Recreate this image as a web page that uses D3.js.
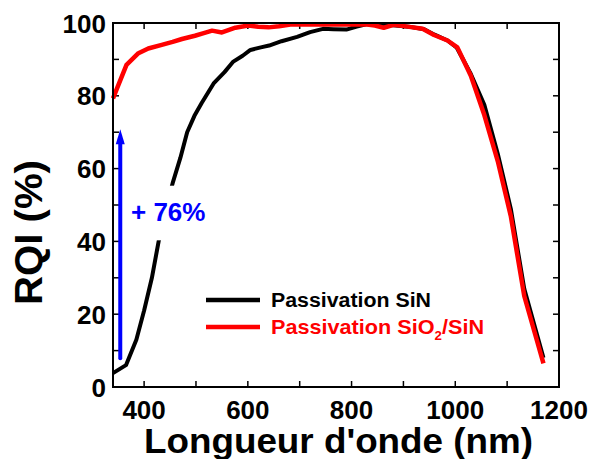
<!DOCTYPE html>
<html>
<head>
<meta charset="utf-8">
<script src="https://cdn.jsdelivr.net/npm/d3@7"></script>
<style>
  body { margin: 0; background: #fff; }
  text { font-family: "Liberation Sans", Arial, sans-serif; font-weight: bold; }
</style>
</head>
<body>
<script>
// wavelength (nm) and RQI (%)
const sinWl  = [340, 365, 385, 400, 415, 428, 440, 455, 470, 483, 497, 511, 534, 555, 572, 590, 605, 625, 641, 665, 695, 720, 745, 765, 790, 810, 830, 850, 880, 910, 940, 960, 985, 1003, 1030, 1056, 1082, 1107, 1133, 1170];
const sinRqi = [3.8, 6, 13, 21, 30, 40, 48, 56, 63, 70, 74.5, 78, 83.4, 86.5, 89.4, 91, 92.6, 93.3, 93.8, 95, 96.2, 97.5, 98.4, 98.3, 98.2, 99, 99.7, 99.5, 99.4, 99, 98.3, 96.8, 95.2, 93.2, 86, 77.5, 64, 49, 27, 8];

const sio2Wl  = [340, 366, 389, 408, 434, 455, 473, 498, 515, 531, 550, 576, 601, 620, 640, 660, 682, 720, 760, 800, 830, 845, 862, 881, 908, 937, 959, 985, 1004, 1030, 1056, 1082, 1107, 1133, 1170];
const sio2Rqi = [79.3, 88.5, 91.7, 93, 94, 94.8, 95.6, 96.5, 97.2, 97.9, 97.4, 98.7, 99.3, 99, 98.8, 99.1, 99.6, 99.6, 99.6, 99.6, 99.6, 99.3, 98.7, 99.5, 99, 98.4, 96.7, 95.2, 93.3, 85.5, 74.7, 62, 47, 25, 6.5];

const xTicks = [400, 600, 800, 1000, 1200];
const xMinor = [500, 700, 900, 1100];
const yTicks = [0, 20, 40, 60, 80, 100];
const yMinor = [10, 30, 50, 70, 90];

// the "+ 76%" arrow, from / to RQI
const gainFrom = 7.9, gainTo = 70.8, gainWl = 354;

const W = 589, H = 459;
const m = {left: 113, right: 30, top: 23, bottom: 72};

const svg = d3.select("body").append("svg")
    .attr("width", W).attr("height", H);

const x = d3.scaleLinear().domain([340, 1200]).range([m.left, W - m.right]);
const y = d3.scaleLinear().domain([0, 100]).range([H - m.bottom, m.top]);

/** ticks: all inward, on four sides */
const tk = 6;
const ticks = svg.append("g").attr("stroke", "#000").attr("stroke-width", 1.5);
for (let v of xTicks.concat(xMinor)) {
    ticks.append("line").attr("x1", x(v)).attr("x2", x(v)).attr("y1", y(0)).attr("y2", y(0) - tk);
    ticks.append("line").attr("x1", x(v)).attr("x2", x(v)).attr("y1", y(100)).attr("y2", y(100) + tk);
}
for (let v of yTicks.concat(yMinor)) {
    ticks.append("line").attr("y1", y(v)).attr("y2", y(v)).attr("x1", x(340)).attr("x2", x(340) + tk);
    ticks.append("line").attr("y1", y(v)).attr("y2", y(v)).attr("x1", x(1200)).attr("x2", x(1200) - tk);
}

svg.append("g").selectAll("text")
    .data(xTicks).enter().append("text")
    .attr("x", d => x(d)).attr("y", y(0) + 32)
    .attr("text-anchor", "middle").attr("font-size", 26)
    .text(d => d);

svg.append("g").selectAll("text")
    .data(yTicks).enter().append("text")
    .attr("x", x(340) - 7).attr("y", d => y(d) + 9.5)
    .attr("text-anchor", "end").attr("font-size", 26)
    .text(d => d);

svg.append("text")
    .attr("x", 144).attr("y", 453)
    .attr("font-size", 35)
    .attr("textLength", 389).attr("lengthAdjust", "spacingAndGlyphs")
    .text("Longueur d'onde (nm)");

svg.append("text")
    .attr("transform", "translate(42, 305) rotate(-90)")
    .attr("font-size", 38)
    .attr("textLength", 145).attr("lengthAdjust", "spacingAndGlyphs")
    .text("RQI (%)");

/** curves */
const line = d3.line().x(d => x(d[0])).y(d => y(d[1]));
const sinPts = sinWl.map((w, i) => [w, sinRqi[i]]);
const sio2Pts = sio2Wl.map((w, i) => [w, sio2Rqi[i]]);

svg.append("path").datum(sinPts)
    .attr("d", line).attr("fill", "none")
    .attr("stroke", "#000").attr("stroke-width", 4).attr("stroke-linejoin", "round");

svg.append("path").datum(sio2Pts)
    .attr("d", line).attr("fill", "none")
    .attr("stroke", "#ff0000").attr("stroke-width", 4.5).attr("stroke-linejoin", "round");

/** frame */
svg.append("rect")
    .attr("x", x(340)).attr("y", y(100))
    .attr("width", x(1200) - x(340)).attr("height", y(0) - y(100))
    .attr("fill", "none").attr("stroke", "#000").attr("stroke-width", 2);

/** annotation: arrow and label box hiding the curve */
svg.append("rect")
    .attr("x", 127).attr("y", y(55.3)).attr("width", 84).attr("height", y(40.3) - y(55.3))
    .attr("fill", "#fff");

svg.append("line")
    .attr("x1", x(gainWl)).attr("x2", x(gainWl))
    .attr("y1", y(gainFrom)).attr("y2", y(gainTo) + 14)
    .attr("stroke", "#0000ff").attr("stroke-width", 4).attr("stroke-linecap", "round");
svg.append("path")
    .attr("d", `M${x(gainWl)},${y(gainTo)} L${x(gainWl) - 4.5},${y(gainTo) + 15} L${x(gainWl) + 4.5},${y(gainTo) + 15} Z`)
    .attr("fill", "#0000ff");

svg.append("text")
    .attr("x", 131).attr("y", 221)
    .attr("font-size", 26).attr("fill", "#0000ff")
    .text("+ 76%");

/** legend */
const legend = svg.append("g");
legend.append("line").attr("x1", 206).attr("x2", 260).attr("y1", 300).attr("y2", 300)
    .attr("stroke", "#000").attr("stroke-width", 4.5);
legend.append("text").attr("x", 271).attr("y", 306.5).attr("font-size", 19.5)
    .attr("textLength", 160).attr("lengthAdjust", "spacingAndGlyphs")
    .text("Passivation SiN");

legend.append("line").attr("x1", 206).attr("x2", 260).attr("y1", 327).attr("y2", 327)
    .attr("stroke", "#ff0000").attr("stroke-width", 4.5);
const t2 = legend.append("text")
    .attr("transform", "translate(271, 333.5) scale(1.11, 1)")
    .attr("font-size", 19.5).attr("fill", "#ff0000");
t2.append("tspan").text("Passivation SiO");
t2.append("tspan").attr("font-size", 12).attr("dy", 6).text("2");
t2.append("tspan").attr("dy", -6).text("/SiN");
</script>
</body>
</html>
